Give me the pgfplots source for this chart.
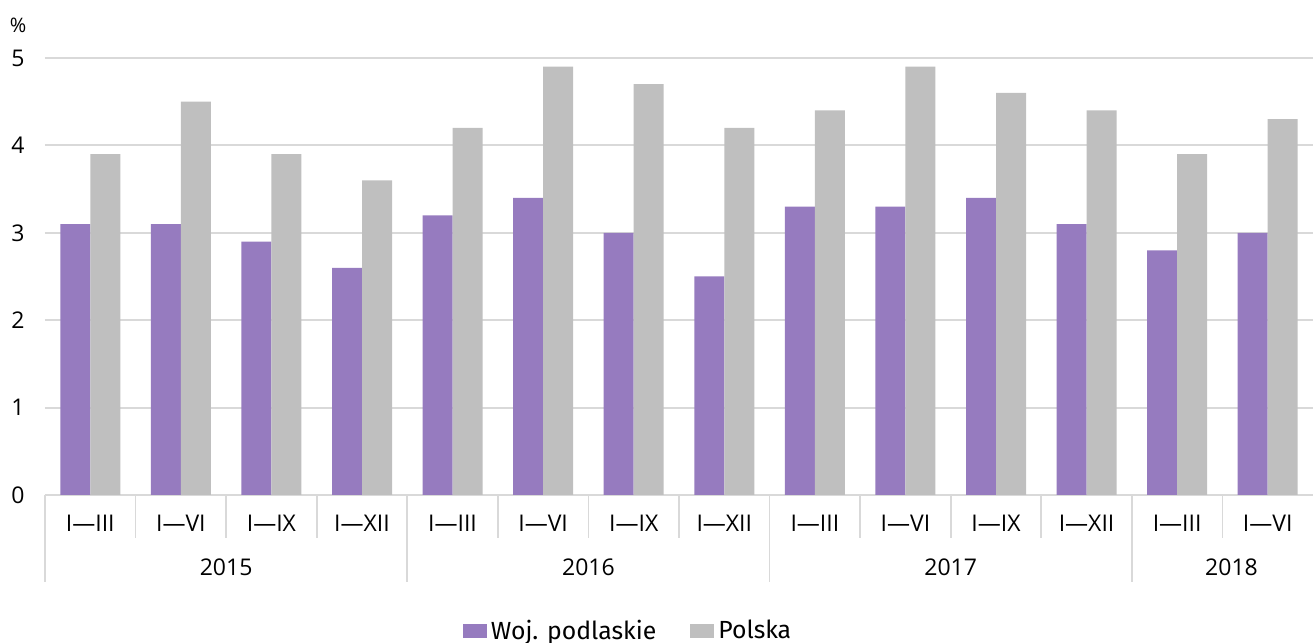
\documentclass[border=0pt]{standalone}
\usepackage{pgfplots}
\pgfplotsset{compat=1.18}
\usepackage{fontspec}
\setmainfont{Open Sans}
\newfontfamily\fira{Fira Sans}
\definecolor{woj}{HTML}{967BBF}
\definecolor{pl}{HTML}{BFBFBF}
\definecolor{gridc}{HTML}{D9D9D9}
\begin{document}
\begin{tikzpicture}[x=1pt,y=1pt]
\useasboundingbox (0,0) rectangle (656.5,321.5);
\begin{axis}[at={(22.5pt,74pt)}, anchor=south west, scale only axis,
  width=634pt, height=218.5pt,
  xmin=-0.5, xmax=13.5, ymin=0, ymax=5,
  ybar=0pt, bar width=15pt,
  ytick={0,...,5}, xtick={0,...,13},
  xticklabels={I—III,I—VI,I—IX,I—XII,I—III,I—VI,I—IX,I—XII,I—III,I—VI,I—IX,I—XII,I—III,I—VI},
  ymajorgrids, grid style={gridc, line width=1pt},
  axis line style={draw=none}, major tick length=0pt,
  tick label style={font=\fontsize{11.5}{13}\selectfont},
  yticklabel style={anchor=east, inner sep=0pt, xshift=-10pt},
  xticklabel style={anchor=center, inner sep=0pt, yshift=-14pt},
  /pgf/number format/assume math mode=true,
  clip=false,
  legend style={at={(0.5,0)}, anchor=center, xshift=-25pt, yshift=-68pt,
    draw=none, fill=none, legend columns=2,
    font=\fira\fontsize{12.4}{14}\selectfont,
    /tikz/every even column/.append style={column sep=15pt},
    inner sep=0pt},
  legend image code/.code={\draw[#1, draw=none] (0pt,-3.5pt) rectangle (12pt,3.5pt);},
]
\addplot[fill=woj, draw=none] coordinates {(0,3.1) (1,3.1) (2,2.9) (3,2.6) (4,3.2) (5,3.4) (6,3.0) (7,2.5) (8,3.3) (9,3.3) (10,3.4) (11,3.1) (12,2.8) (13,3.0)};
\addplot[fill=pl, draw=none] coordinates {(0,3.9) (1,4.5) (2,3.9) (3,3.6) (4,4.2) (5,4.9) (6,4.7) (7,4.2) (8,4.4) (9,4.9) (10,4.6) (11,4.4) (12,3.9) (13,4.3)};
\legend{Woj. podlaskie, Polska}
\foreach \x in {0.5,1.5,2.5,4.5,5.5,6.5,8.5,9.5,10.5,12.5} {
  \edef\tmp{\noexpand\draw[gridc, line width=0.8pt] (axis cs:\x,0) -- ++(0pt,-21.5pt);}\tmp
}
\foreach \x in {-0.5,3.5,7.5,11.5} {
  \edef\tmp{\noexpand\draw[gridc, line width=0.8pt] (axis cs:\x,0) -- ++(0pt,-43.5pt);}\tmp
}
\node[font=\fontsize{11.5}{13}\selectfont] at (axis cs:1.5,0) [yshift=-36pt] {2015};
\node[font=\fontsize{11.5}{13}\selectfont] at (axis cs:5.5,0) [yshift=-36pt] {2016};
\node[font=\fontsize{11.5}{13}\selectfont] at (axis cs:9.5,0) [yshift=-36pt] {2017};
\node[font=\fontsize{11.5}{13}\selectfont] at (axis cs:12.6,0) [yshift=-36pt] {2018};
\node[font=\fontsize{10}{12}\selectfont] at (axis description cs:0,1) [xshift=-13.5pt, yshift=16.5pt] {\%};
\end{axis}
\end{tikzpicture}
\end{document}
